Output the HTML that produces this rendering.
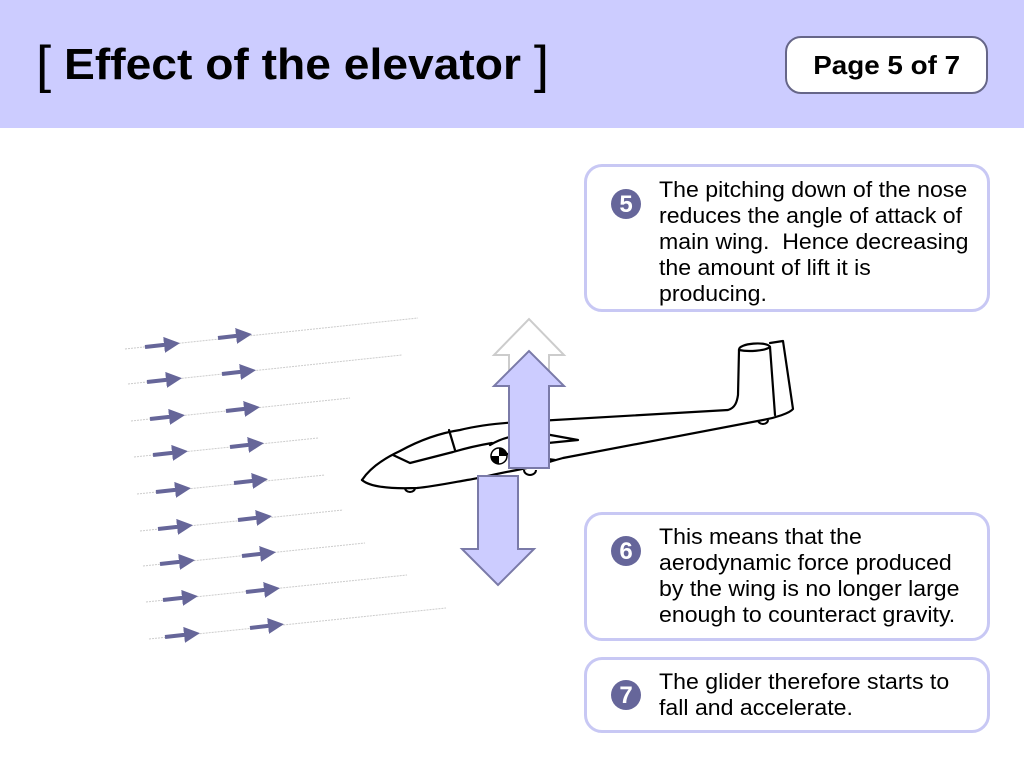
<!DOCTYPE html>
<html><head><meta charset="utf-8"><style>
body{margin:0;width:1024px;height:766px;background:#fff;position:relative;overflow:hidden;font-family:"Liberation Sans",Arial,sans-serif}
.hdr{position:absolute;left:0;top:0;width:1024px;height:128px;background:#ccccff}
.title{position:absolute;left:36px;top:37px;font-size:44px;font-weight:bold;color:#000;white-space:nowrap;line-height:56px;transform:scaleX(1.05);transform-origin:0 0}
.br{font-weight:normal;font-size:52px;vertical-align:-3px}
.pg{position:absolute;left:785px;top:36px;width:199px;height:54px;border:2px solid #666688;border-radius:16px;background:#fff;font-weight:bold;font-size:26px;text-align:center;line-height:54px}
.pg span{display:inline-block;transform:scaleX(1.07)}
.box{position:absolute;left:584px;width:400px;border:3px solid #c8c8f4;border-radius:18px;background:#fff}
.box .t{position:absolute;left:72px;font-size:22px;line-height:26px;color:#000;white-space:nowrap;transform:scaleX(1.05);transform-origin:0 0}
.num{position:absolute;left:24px;width:30px;height:30px;border-radius:50%;background:#66669a;color:#fff;font-weight:bold;font-size:24px;text-align:center;line-height:31px}
</style></head><body>
<div class="hdr"></div>
<div class="title"><span class="br">[</span> Effect of the elevator <span class="br">]</span></div>
<div class="pg"><span>Page 5 of 7</span></div>

<div class="box" style="top:164px;height:142px"><div class="num" style="top:22px">5</div><div class="t" style="top:10px">The pitching down of the nose<br>reduces the angle of attack of<br>main wing.&nbsp; Hence decreasing<br>the amount of lift it is<br>producing.</div></div>
<div class="box" style="top:512px;height:123px"><div class="num" style="top:21px">6</div><div class="t" style="top:9px">This means that the<br>aerodynamic force produced<br>by the wing is no longer large<br>enough to counteract gravity.</div></div>
<div class="box" style="top:657px;height:70px"><div class="num" style="top:20px">7</div><div class="t" style="top:9px">The glider therefore starts to<br>fall and accelerate.</div></div>

<svg width="1024" height="766" style="position:absolute;left:0;top:0">
<defs><marker id="a" markerWidth="4" markerHeight="4" refX="2" refY="2" orient="auto" markerUnits="strokeWidth"><path d="M0,0 L4,2 L0,4z" fill="#666699"/></marker></defs>
<g stroke="#ccc" stroke-width="1" stroke-dasharray="2,1">
<line x1="125" y1="349" x2="418" y2="318"/>
<line x1="128" y1="384" x2="402" y2="355"/>
<line x1="131" y1="421" x2="350" y2="398"/>
<line x1="134" y1="457" x2="318" y2="438"/>
<line x1="137" y1="494" x2="325" y2="475"/>
<line x1="140" y1="531" x2="343" y2="510"/>
<line x1="143" y1="566" x2="365" y2="543"/>
<line x1="146" y1="602" x2="407" y2="575"/>
<line x1="149" y1="639" x2="446" y2="608"/>
</g>
<g stroke="#666699" stroke-width="4" marker-end="url(#a)">
<line x1="145" y1="347" x2="172" y2="344"/><line x1="218" y1="338" x2="244" y2="335"/>
<line x1="147" y1="382" x2="174" y2="379"/><line x1="222" y1="374" x2="248" y2="371"/>
<line x1="150" y1="419" x2="177" y2="416"/><line x1="226" y1="411" x2="252" y2="408"/>
<line x1="153" y1="455" x2="180" y2="452"/><line x1="230" y1="447" x2="256" y2="444"/>
<line x1="156" y1="492" x2="183" y2="489"/><line x1="234" y1="483" x2="260" y2="480"/>
<line x1="158" y1="529" x2="185" y2="526"/><line x1="238" y1="520" x2="264" y2="517"/>
<line x1="160" y1="564" x2="187" y2="561"/><line x1="242" y1="556" x2="268" y2="553"/>
<line x1="163" y1="600" x2="190" y2="597"/><line x1="246" y1="592" x2="272" y2="589"/>
<line x1="165" y1="637" x2="192" y2="634"/><line x1="250" y1="628" x2="276" y2="625"/>
</g>
<path d="M509,420 V355 H494 L529,319 L564,355 H549 V420" fill="none" stroke="#ccc" stroke-width="2"/>
<g fill="none" stroke="#000" stroke-width="2.2" stroke-linejoin="round" stroke-linecap="round">
<path d="M362,480 C370,468 385,458 400,451 C420,440 440,433 460,430 C480,425 500,423 520,422 L728,410 C735,408 737,402 738,395 L739,350"/>
<path d="M362,480 C370,487 390,489 417,488 C430,487 445,484 467,480 C480,478 495,474 517,470 C530,468 545,463 563,458 L763,420 C775,418 790,413 793,409 L783,341 L770,343"/>
<path d="M739,350 C738,343 768,341 770,347 C765,351 748,352 739,350"/>
<path d="M770,347 L775,415"/>
<path d="M393,455 L410,463 L453,452 C470,447 480,445 492,443"/>
<path d="M449,430 L455,450"/>
<path d="M490,445 C505,436 525,433 545,434 L578,440 L548,443 C530,450 510,454 500,455"/>
<path d="M520,463 C530,458 545,458 555,460"/>
</g>
<circle cx="528" cy="440" r="2.5" fill="#000"/>
<g><circle cx="499" cy="456" r="8" fill="#fff" stroke="#000" stroke-width="1.5"/><path d="M499,456 V448 A8,8 0 0 1 507,456 Z M499,456 V464 A8,8 0 0 1 491,456 Z" fill="#000"/></g>
<g fill="none" stroke="#000" stroke-width="2"><path d="M405,488 a5,4 0 0 0 10,0"/><path d="M524,470 a6,5 0 0 0 12,0"/><path d="M758,420 a5,4 0 0 0 10,0"/></g>
<path d="M509,468 V386 H494 L529,351 L564,386 H549 V468 Z" fill="#ccccff" stroke="#7a7aa8" stroke-width="2"/>
<path d="M478,476 H518 V549 H534 L498,585 L462,549 H478 Z" fill="#ccccff" stroke="#7a7aa8" stroke-width="2"/>
</svg>
</body></html>
